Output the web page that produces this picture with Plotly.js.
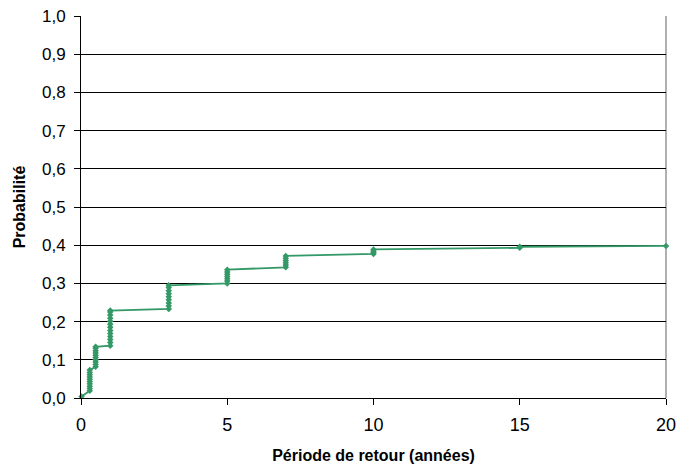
<!DOCTYPE html>
<html>
<head>
<meta charset="utf-8">
<script src="https://cdn.plot.ly/plotly-3.0.1.min.js"></script>
<style>html,body{margin:0;padding:0;background:#fff;}#chart{width:676px;height:470px;}</style>
</head>
<body>
<div id="chart"></div>
<script>
// Return period (years) and cumulative probability
const periode = [
  0.02,
  0.30, 0.30, 0.30, 0.30, 0.30, 0.30, 0.30, 0.30, 0.30, 0.30,
  0.50, 0.50, 0.50, 0.50, 0.50, 0.50, 0.50, 0.50, 0.50, 0.50,
  1, 1, 1, 1, 1, 1, 1, 1, 1, 1, 1, 1, 1,
  3, 3, 3, 3, 3, 3, 3, 3, 3,
  5, 5, 5, 5, 5, 5, 5,
  7, 7, 7, 7, 7, 7,
  10, 10, 10, 10,
  15, 15,
  20
];
const probabilite = [
  0.004,
  0.019, 0.025, 0.031, 0.037, 0.043, 0.049, 0.055, 0.061, 0.067, 0.073,
  0.082, 0.088, 0.094, 0.100, 0.106, 0.112, 0.118, 0.124, 0.130, 0.134,
  0.137, 0.145, 0.153, 0.161, 0.169, 0.177, 0.185, 0.193, 0.201, 0.209, 0.217, 0.225, 0.229,
  0.233, 0.241, 0.249, 0.257, 0.265, 0.273, 0.281, 0.289, 0.295,
  0.300, 0.306, 0.312, 0.318, 0.324, 0.330, 0.336,
  0.342, 0.348, 0.354, 0.360, 0.366, 0.372,
  0.377, 0.381, 0.385, 0.389,
  0.393, 0.396,
  0.398
];
const yTicks = [0, 0.1, 0.2, 0.3, 0.4, 0.5, 0.6, 0.7, 0.8, 0.9, 1.0];
const xTicks = [0, 5, 10, 15, 20];

const green = '#339966';
const trace = {
  x: periode, y: probabilite, type: 'scatter', mode: 'lines+markers',
  line: {color: green, width: 1.8},
  marker: {symbol: 'diamond', size: 5, color: green},
  cliponaxis: false, hoverinfo: 'skip'
};
const font = {family: 'Liberation Sans, Arial, sans-serif', color: '#000'};
const layout = {
  width: 676, height: 470,
  margin: {l: 81, r: 10, t: 16, b: 72, pad: 0},
  paper_bgcolor: '#fff', plot_bgcolor: '#fff',
  separators: ', ',
  showlegend: false,
  font: Object.assign({size: 16}, font),
  xaxis: {
    range: [0, 20], tickvals: xTicks, ticktext: xTicks.map(String),
    showgrid: false, zeroline: false,
    showline: true, linecolor: '#000', linewidth: 1,
    ticks: 'outside', ticklen: 6, tickcolor: '#000', tickwidth: 1,
    ticklabelstandoff: 4, ticklabeloverflow: 'allow',
    tickfont: Object.assign({size: 18}, font),
    title: {text: '<b>Période de retour (années)</b>', font: Object.assign({size: 16}, font), standoff: 16}
  },
  yaxis: {
    range: [0, 1], tickvals: yTicks, ticktext: yTicks.map(v => v.toFixed(1).replace('.', ',')),
    showgrid: true, gridcolor: '#000', gridwidth: 1, zeroline: false,
    showline: true, linecolor: '#000', linewidth: 1,
    ticks: 'outside', ticklen: 6, tickcolor: '#000', tickwidth: 1,
    ticklabelstandoff: 5, ticklabeloverflow: 'allow',
    tickfont: Object.assign({size: 17}, font),
    title: {text: '<b>Probabilité</b>', font: Object.assign({size: 16}, font), standoff: 12}
  },
  shapes: [
    {type: 'line', xref: 'paper', yref: 'paper', x0: 1, x1: 1, y0: 0, y1: 1,
     line: {color: '#b0b0b0', width: 2}, layer: 'below'}
  ]
};
Plotly.newPlot('chart', [trace], layout, {staticPlot: true, displayModeBar: false});
</script>
</body>
</html>
